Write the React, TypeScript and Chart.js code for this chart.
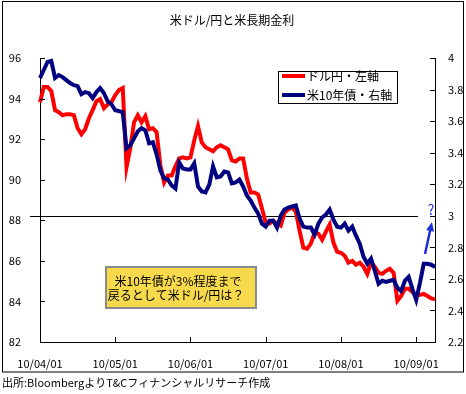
import React, { useEffect, useRef } from "react";
import { Chart, registerables } from "chart.js";

Chart.register(...registerables);

const titleText = "米ドル/円と米長期金利";
const sourceText = "出所:BloombergよりT&Cフィナンシャルリサーチ作成";
const seriesNames = ["ドル円・左軸", "米10年債・右軸"];
const noteLines = ["米10年債が3%程度まで", "戻るとして米ドル/円は？"];

const tickLabels = ["10/04/01", "10/05/01", "10/06/01", "10/07/01", "10/08/01", "10/09/01"];
const monthStarts = [0, 20, 40, 60, 80, 100];

const usdJpy = [
  93.82, 94.57, 94.57, 94.37, 93.43, 93.33, 93.18, 93.23, 93.23, 93.18,
  92.54, 92.24, 92.49, 93.03, 93.43, 93.87, 93.97, 93.53, 93.72, 93.82,
  94.17, 94.42, 94.52, 90.61, 91.55, 92.83, 93.18, 92.83, 93.13, 92.49,
  92.54, 92.34, 90.71, 89.86, 90.21, 90.21, 90.66, 91.05, 91.1, 91.05,
  91.1, 91.94, 92.64, 91.84, 91.6, 91.5, 91.4, 91.6, 91.7, 91.6,
  91.5, 90.95, 90.9, 91.05, 91.05, 90.06, 89.37, 89.37, 89.27, 88.58,
  87.89, 87.84, 87.98, 87.84, 87.74, 88.38, 88.53, 88.63, 88.43, 87.49,
  86.65, 86.6, 86.85, 87.39, 87.34, 87.04, 87.44, 87.79, 86.9, 86.45,
  86.4, 86.25, 85.91, 86.0, 85.81, 85.91, 85.71, 85.36, 85.91, 85.71,
  85.41, 85.36, 85.51, 85.61, 85.41, 84.03, 84.27, 84.62, 84.62, 84.47,
  84.27, 84.32, 84.37, 84.27, 84.15, 84.1,
];

const ust10y = [
  3.873, 3.924, 3.975, 3.981, 3.873, 3.892, 3.879, 3.86, 3.841, 3.828,
  3.822, 3.771, 3.784, 3.777, 3.746, 3.784, 3.809, 3.777, 3.726, 3.707,
  3.669, 3.663, 3.656, 3.427, 3.447, 3.491, 3.536, 3.555, 3.542, 3.459,
  3.466, 3.389, 3.288, 3.237, 3.23, 3.192, 3.173, 3.338, 3.3, 3.294,
  3.294, 3.332, 3.186, 3.154, 3.148, 3.198, 3.313, 3.243, 3.249, 3.281,
  3.275, 3.205, 3.211, 3.23, 3.186, 3.128, 3.097, 3.052, 3.014, 2.95,
  2.931, 2.969, 2.969, 2.925, 3.001, 3.039, 3.052, 3.059, 3.065, 2.982,
  2.931, 2.925, 2.925, 2.88, 2.95, 2.989, 3.008, 3.039, 2.976, 2.931,
  2.925, 2.95, 2.906, 2.931, 2.874, 2.823, 2.74, 2.696, 2.728, 2.651,
  2.569, 2.588, 2.581, 2.588, 2.594, 2.543, 2.524, 2.588, 2.613, 2.537,
  2.467, 2.575, 2.696, 2.696, 2.69, 2.675,
];

const targetYield = 3;

const FONT = '"Noto Sans CJK JP", "Noto Sans", sans-serif';
const RED = "#ff0000";
const NAVY = "#000080";
const ARROW = "#1f2fd8";

const labels = usdJpy.map((_, i) => {
  const k = monthStarts.indexOf(i);
  return k >= 0 ? tickLabels[k] : "";
});

const deco = {
  id: "deco",
  beforeDraw(chart: any) {
    const ctx = chart.ctx;
    ctx.save();
    ctx.fillStyle = "#fff";
    ctx.fillRect(0, 0, chart.width, chart.height);
    ctx.restore();
  },
  beforeDatasetsDraw(chart: any) {
    const { ctx, scales } = chart;
    const py = Math.round(scales.y1.getPixelForValue(targetYield)) + 0.5;
    ctx.save();
    ctx.strokeStyle = "#000";
    ctx.lineWidth = 1;
    ctx.beginPath();
    ctx.moveTo(30, py);
    ctx.lineTo(418, py);
    ctx.stroke();
    ctx.restore();
  },
  afterDraw(chart: any) {
    const { ctx, chartArea: a, scales } = chart;
    ctx.save();
    // inward tick marks
    ctx.strokeStyle = "#000";
    ctx.lineWidth = 1;
    ctx.beginPath();
    scales.y.ticks.forEach((t: any) => {
      const py = Math.round(scales.y.getPixelForValue(t.value)) + 0.5;
      ctx.moveTo(a.left, py);
      ctx.lineTo(a.left + 5, py);
    });
    scales.y1.ticks.forEach((t: any) => {
      const py = Math.round(scales.y1.getPixelForValue(t.value)) + 0.5;
      ctx.moveTo(a.right, py);
      ctx.lineTo(a.right - 5, py);
    });
    scales.x.ticks.forEach((t: any) => {
      const px = Math.round(scales.x.getPixelForValue(t.value)) + 0.5;
      ctx.moveTo(px, a.bottom);
      ctx.lineTo(px, a.bottom - 5);
    });
    ctx.stroke();

    // outer frame
    ctx.strokeRect(2.5, 1.5, 461, 370.5);

    // title
    ctx.fillStyle = "#000";
    ctx.font = `12px ${FONT}`;
    ctx.textAlign = "center";
    ctx.textBaseline = "middle";
    ctx.fillText(titleText, 232, 20);

    // source
    ctx.font = `11px ${FONT}`;
    ctx.textAlign = "left";
    ctx.fillText(sourceText, 2, 383);

    // legend
    ctx.fillStyle = "#fff";
    ctx.fillRect(278, 71, 119, 32);
    ctx.strokeRect(278.5, 71.5, 119, 32);
    const legendRows = [
      { y: 76, color: RED, text: seriesNames[0] },
      { y: 95, color: NAVY, text: seriesNames[1] },
    ];
    legendRows.forEach((r) => {
      ctx.strokeStyle = r.color;
      ctx.lineWidth = 4;
      ctx.beginPath();
      ctx.moveTo(282, r.y);
      ctx.lineTo(305, r.y);
      ctx.stroke();
      ctx.fillStyle = "#000";
      ctx.font = `12px ${FONT}`;
      ctx.textAlign = "left";
      ctx.fillText(r.text, 307, r.y);
    });

    // note box
    ctx.fillStyle = "#f7d94c";
    ctx.fillRect(106, 267, 150, 41);
    ctx.strokeStyle = "#8a8a8a";
    ctx.lineWidth = 2;
    ctx.strokeRect(106, 267, 150, 41);
    ctx.fillStyle = "#000";
    ctx.font = `12px ${FONT}`;
    ctx.textAlign = "center";
    ctx.fillText(noteLines[0], 178, 281);
    ctx.fillText(noteLines[1], 176, 295);

    // arrow
    const x0 = 425, y0 = 254, x1 = 432, y1 = 222;
    const ang = Math.atan2(y1 - y0, x1 - x0);
    ctx.strokeStyle = ARROW;
    ctx.fillStyle = ARROW;
    ctx.lineWidth = 2.5;
    ctx.beginPath();
    ctx.moveTo(x0, y0);
    ctx.lineTo(x1 - 7 * Math.cos(ang), y1 - 7 * Math.sin(ang));
    ctx.stroke();
    ctx.beginPath();
    ctx.moveTo(x1, y1);
    ctx.lineTo(x1 - 9 * Math.cos(ang) + 4 * Math.sin(ang), y1 - 9 * Math.sin(ang) - 4 * Math.cos(ang));
    ctx.lineTo(x1 - 9 * Math.cos(ang) - 4 * Math.sin(ang), y1 - 9 * Math.sin(ang) + 4 * Math.cos(ang));
    ctx.closePath();
    ctx.fill();
    ctx.font = `14px ${FONT}`;
    ctx.textAlign = "center";
    ctx.fillText("?", 431, 210);
    ctx.restore();
  },
};

export default function App() {
  const ref = useRef<HTMLCanvasElement | null>(null);
  useEffect(() => {
    document.body.style.margin = "0";
    const canvas = ref.current;
    if (!canvas) return;
    const chart = new Chart(canvas, {
      type: "line",
      data: {
        labels,
        datasets: [
          {
            label: seriesNames[1],
            data: ust10y,
            yAxisID: "y1",
            borderColor: NAVY,
            backgroundColor: NAVY,
            borderWidth: 4,
            pointRadius: 0,
            tension: 0,
            order: 0,
          },
          {
            label: seriesNames[0],
            data: usdJpy,
            yAxisID: "y",
            borderColor: RED,
            backgroundColor: RED,
            borderWidth: 4,
            pointRadius: 0,
            tension: 0,
            order: 1,
          },
        ],
      },
      options: {
        responsive: false,
        animation: false,
        devicePixelRatio: 1,
        layout: { padding: { top: 58, left: 0, right: 0, bottom: 0 } },
        plugins: { legend: { display: false }, tooltip: { enabled: false }, title: { display: false } },
        scales: {
          x: {
            type: "category",
            offset: false,
            grid: { display: false },
            border: { display: true, color: "#000", width: 1 },
            ticks: {
              autoSkip: false,
              maxRotation: 0,
              minRotation: 0,
              padding: 7,
              color: "#000",
              font: { family: FONT, size: 11 },
            },
            afterBuildTicks: (s: any) => {
              s.ticks = s.ticks.filter((t: any) => monthStarts.includes(t.value));
            },
            afterFit: (s: any) => {
              s.height = 52;
            },
          },
          y: {
            position: "left",
            min: 82,
            max: 96,
            grid: { display: false },
            border: { display: true, color: "#000", width: 1 },
            ticks: { stepSize: 2, padding: 11, color: "#000", font: { family: FONT, size: 11 } },
            afterFit: (s: any) => {
              s.width = 40;
            },
          },
          y1: {
            position: "right",
            min: 2.2,
            max: 4,
            grid: { display: false },
            border: { display: true, color: "#000", width: 1 },
            ticks: {
              stepSize: 0.2,
              padding: 5,
              color: "#000",
              font: { family: FONT, size: 11 },
              callback: (v: any) => String(Number(Number(v).toFixed(1))),
            },
            afterFit: (s: any) => {
              s.width = 31;
            },
          },
        },
      },
      plugins: [deco],
    } as any);
    return () => chart.destroy();
  }, []);
  return (
    <div style={{ width: 466, height: 394 }}>
      <canvas ref={ref} width={466} height={394} style={{ display: "block" }} />
    </div>
  );
}
